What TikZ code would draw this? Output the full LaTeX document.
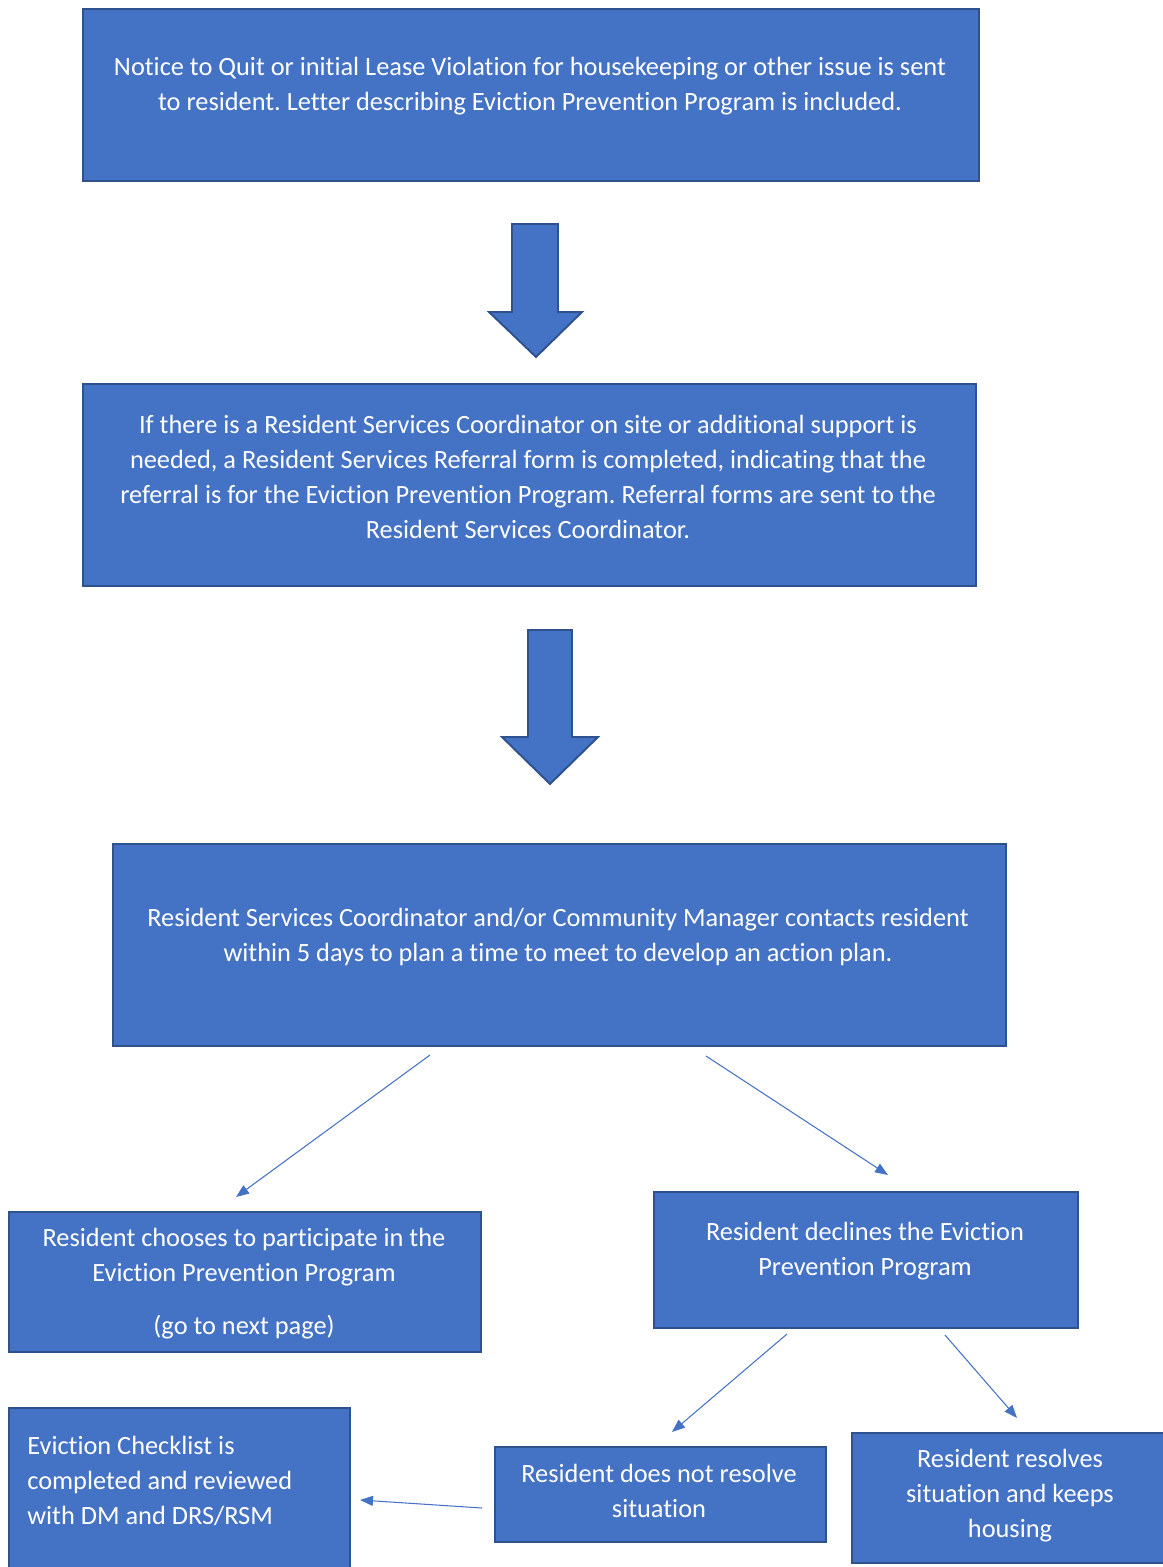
\documentclass[tikz,border=0pt]{standalone}
\usepackage{fontspec}
\setmainfont{Carlito}[Ligatures=NoCommon]
\usetikzlibrary{arrows.meta}
\definecolor{boxblue}{HTML}{4472C4}
\definecolor{edgeblue}{HTML}{2F528F}
\frenchspacing

\begin{document}
\begin{tikzpicture}[x=0.02cm,y=-0.02cm]
\tikzstyle{flowbox}=[draw=edgeblue,fill=boxblue,line width=1.1pt,inner sep=0pt,anchor=north west]
\tikzstyle{flowtext}=[text=white,align=center,inner sep=0pt,font=\fontsize{15}{19.9}\selectfont]
\tikzstyle{flowline}=[draw=boxblue,line width=0.6pt,-{Triangle[length=0.26cm,width=0.2cm]}]
\tikzstyle{blockarrow}=[draw=edgeblue,fill=boxblue,line width=1.1pt,line join=miter]
\useasboundingbox (0,0) rectangle (1162,1567);
\node[flowbox,minimum width=17.92cm,minimum height=3.44cm] (notice) at (82,8) {};
\node[flowtext] (noticetext) at (530,86) {Notice to Quit or initial Lease Violation for housekeeping or other issue is sent\\to resident. Letter describing Eviction Prevention Program is included.};
\draw[blockarrow] (512,224) -- (558,224) -- (558,312) -- (582,312) -- (536,357) -- (489,312) -- (512,312) -- cycle;
\node[flowbox,minimum width=17.86cm,minimum height=4.04cm] (referral) at (82,383) {};
\node[flowtext] (referraltext) at (528,477) {If there is a Resident Services Coordinator on site or additional support is\\needed, a Resident Services Referral form is completed, indicating that the\\referral is for the Eviction Prevention Program. Referral forms are sent to the\\Resident Services Coordinator.};
\draw[blockarrow] (528,630) -- (572,630) -- (572,737) -- (598,737) -- (550,784) -- (502,737) -- (528,737) -- cycle;
\node[flowbox,minimum width=17.86cm,minimum height=4.04cm] (contact) at (112,843) {};
\node[flowtext] (contacttext) at (558,937) {Resident Services Coordinator and/or Community Manager contacts resident\\within 5 days to plan a time to meet to develop an action plan.};
\node[flowbox,minimum width=9.44cm,minimum height=2.8cm] (participate) at (8,1211) {};
\node[flowtext] (participatetext) at (244,1284) {Resident chooses to participate in the\\Eviction Prevention Program\\[0.36cm](go to next page)};
\node[flowbox,minimum width=8.48cm,minimum height=2.72cm] (declines) at (653,1191) {};
\node[flowtext] (declinestext) at (865,1251) {Resident declines the Eviction\\Prevention Program};
\node[flowbox,minimum width=6.82cm,minimum height=4.0cm] (checklist) at (8,1407) {};
\node[flowtext,align=left,anchor=west] (checklisttext) at (27,1481) {Eviction Checklist is\\completed and reviewed\\with DM and DRS/RSM};
\node[flowbox,minimum width=6.62cm,minimum height=1.9cm] (notresolve) at (494,1446) {};
\node[flowtext] (notresolvetext) at (659,1491) {Resident does not resolve\\situation};
\node[flowbox,minimum width=6.8cm,minimum height=2.6cm] (resolves) at (851,1432) {};
\node[flowtext] (resolvestext) at (1010,1496) {Resident resolves\\situation and keeps\\housing};
\coordinate (contactL) at (430,1055);
\coordinate (participateT) at (236,1197);
\coordinate (contactR) at (706,1056);
\coordinate (declinesT) at (888,1175);
\coordinate (declinesL) at (787,1334);
\coordinate (notresolveT) at (672,1432);
\coordinate (declinesR) at (945,1335);
\coordinate (resolvesT) at (1017,1418);
\coordinate (notresolveW) at (482,1508);
\coordinate (checklistE) at (360,1500);
\draw[flowline] (contactL) -- (participateT);
\draw[flowline] (contactR) -- (declinesT);
\draw[flowline] (declinesL) -- (notresolveT);
\draw[flowline] (declinesR) -- (resolvesT);
\draw[flowline] (notresolveW) -- (checklistE);
\end{tikzpicture}
\end{document}
